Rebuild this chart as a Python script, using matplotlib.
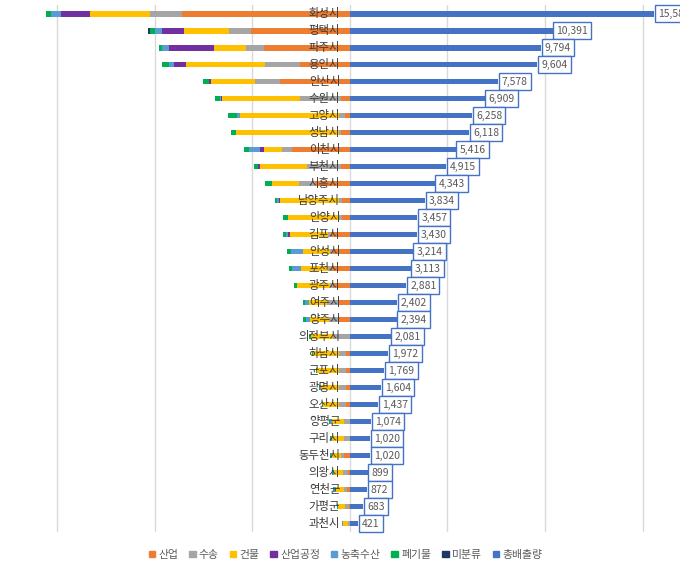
import numpy as np
import matplotlib
matplotlib.use('Agg')
import matplotlib.pyplot as plt
from matplotlib.patches import Patch

plt.rcParams['font.family'] = ['Noto Sans CJK KR', 'DejaVu Sans']

# 시군별 데이터 (천톤)
cities = ['화성시', '평택시', '파주시', '용인시', '안산시', '수원시', '고양시', '성남시',
          '이천시', '부천시', '시흥시', '남양주시', '안양시', '김포시', '안성시', '포천시',
          '광주시', '여주시', '양주시', '의정부시', '하남시', '군포시', '광명시', '오산시',
          '양평군', '구리시', '동두천시', '의왕시', '연천군', '가평군', '과천시']

total = [15583, 10391, 9794, 9604, 7578, 6909, 6258, 6118, 5416, 4915, 4343, 3834,
         3457, 3430, 3214, 3113, 2881, 2402, 2394, 2081, 1972, 1769, 1604, 1437,
         1074, 1020, 1020, 899, 872, 683, 421]

industry = [8634, 5063, 4397, 2565, 3591, 462, 257, 436, 2949, 462, 1796, 390,
            390, 990, 872, 990, 887, 589, 574, 10, 205, 210, 200, 200,
            20, 10, 330, 80, 150, 30, 0]
transport = [1642, 1129, 923, 1779, 1299, 2088, 323, 140, 549, 1749, 820, 154,
             190, 150, 150, 150, 150, 600, 500, 850, 380, 350, 350, 380,
             300, 300, 130, 280, 150, 220, 80]
building = [3063, 2309, 1658, 4087, 2241, 4020, 5063, 5250, 908, 2396, 1400, 3069,
            2620, 1943, 1388, 1389, 1690, 900, 1000, 1120, 1300, 1130, 960, 790,
            580, 630, 480, 480, 400, 340, 290]
process = [1503, 1129, 2325, 598, 120, 40, 0, 0, 205, 87, 0, 50,
           0, 87, 0, 0, 0, 0, 0, 0, 0, 0, 0, 0,
           0, 0, 0, 0, 0, 0, 0]
agri = [498, 375, 325, 257, 0, 50, 138, 0, 564, 0, 0, 60,
        0, 120, 633, 428, 0, 210, 170, 20, 20, 19, 20, 17,
        110, 20, 20, 19, 100, 50, 21]
waste = [272, 272, 154, 342, 308, 257, 477, 292, 241, 221, 323, 118,
         257, 140, 171, 154, 154, 103, 150, 81, 67, 60, 74, 50,
         64, 60, 60, 40, 72, 43, 30]
unclassified = [0, 103, 0, 0, 0, 0, 0, 0, 0, 0, 0, 0,
                0, 0, 0, 0, 0, 0, 0, 0, 0, 0, 0, 0,
                0, 0, 0, 0, 0, 0, 0]

sectors = [('산업', industry, '#ED7D31'),
           ('수송', transport, '#A5A5A5'),
           ('건물', building, '#FFC000'),
           ('산업공정', process, '#7030A0'),
           ('농축수산', agri, '#5B9BD5'),
           ('폐기물', waste, '#00B050'),
           ('미분류', unclassified, '#1F3864')]

y = np.arange(len(cities))
bar_h = 0.34

fig = plt.figure(figsize=(6.8, 5.69), dpi=100)
ax = fig.add_axes([0.0, 0.065, 1.0, 0.926])

# 왼쪽: 부문별 누적 막대 (음수 방향)
left = np.zeros(len(cities))
for name, vals, color in sectors:
    vals = np.array(vals, dtype=float)
    ax.barh(y, -vals, left=-left, height=bar_h, color=color, zorder=2)
    left += vals

# 오른쪽: 총배출량
ax.barh(y, total, height=bar_h, color='#4472C4', zorder=2)

for i, v in enumerate(total):
    ax.annotate(f'{v:,}', (v, i), xytext=(2.8, 0), textcoords='offset points',
                va='center', ha='left', fontsize=7.5, color='#595959', zorder=5,
                bbox=dict(boxstyle='square,pad=0.3', fc='white', ec='#4472C4', lw=1.0))

for i, c in enumerate(cities):
    ax.annotate(c, (0, i), xytext=(-7, 0), textcoords='offset points',
                va='center', ha='right', fontsize=8.2, color='#3A3A3A', zorder=4)

scale = 5000 / 97.5
ax.set_xlim(-350 * scale, 330 * scale)
ax.set_ylim(len(cities) - 0.5, -0.5)
ax.set_xticks(np.arange(-15000, 15001, 5000))
ax.set_yticks([])
ax.tick_params(axis='x', length=0, labelbottom=False)
ax.grid(axis='x', color='#D9D9D9', linewidth=1, zorder=0)
ax.set_axisbelow(True)
for s in ax.spines.values():
    s.set_visible(False)

handles = [Patch(color=c, label=n) for n, _, c in sectors]
handles.append(Patch(color='#4472C4', label='총배출량'))
fig.legend(handles=handles, loc='center', bbox_to_anchor=(0.508, 0.025), ncol=8,
           frameon=False, fontsize=7.8, handlelength=0.6, handleheight=0.6,
           handletextpad=0.3, columnspacing=1.0, labelcolor='#595959')

fig.savefig('out.png', dpi=100)
